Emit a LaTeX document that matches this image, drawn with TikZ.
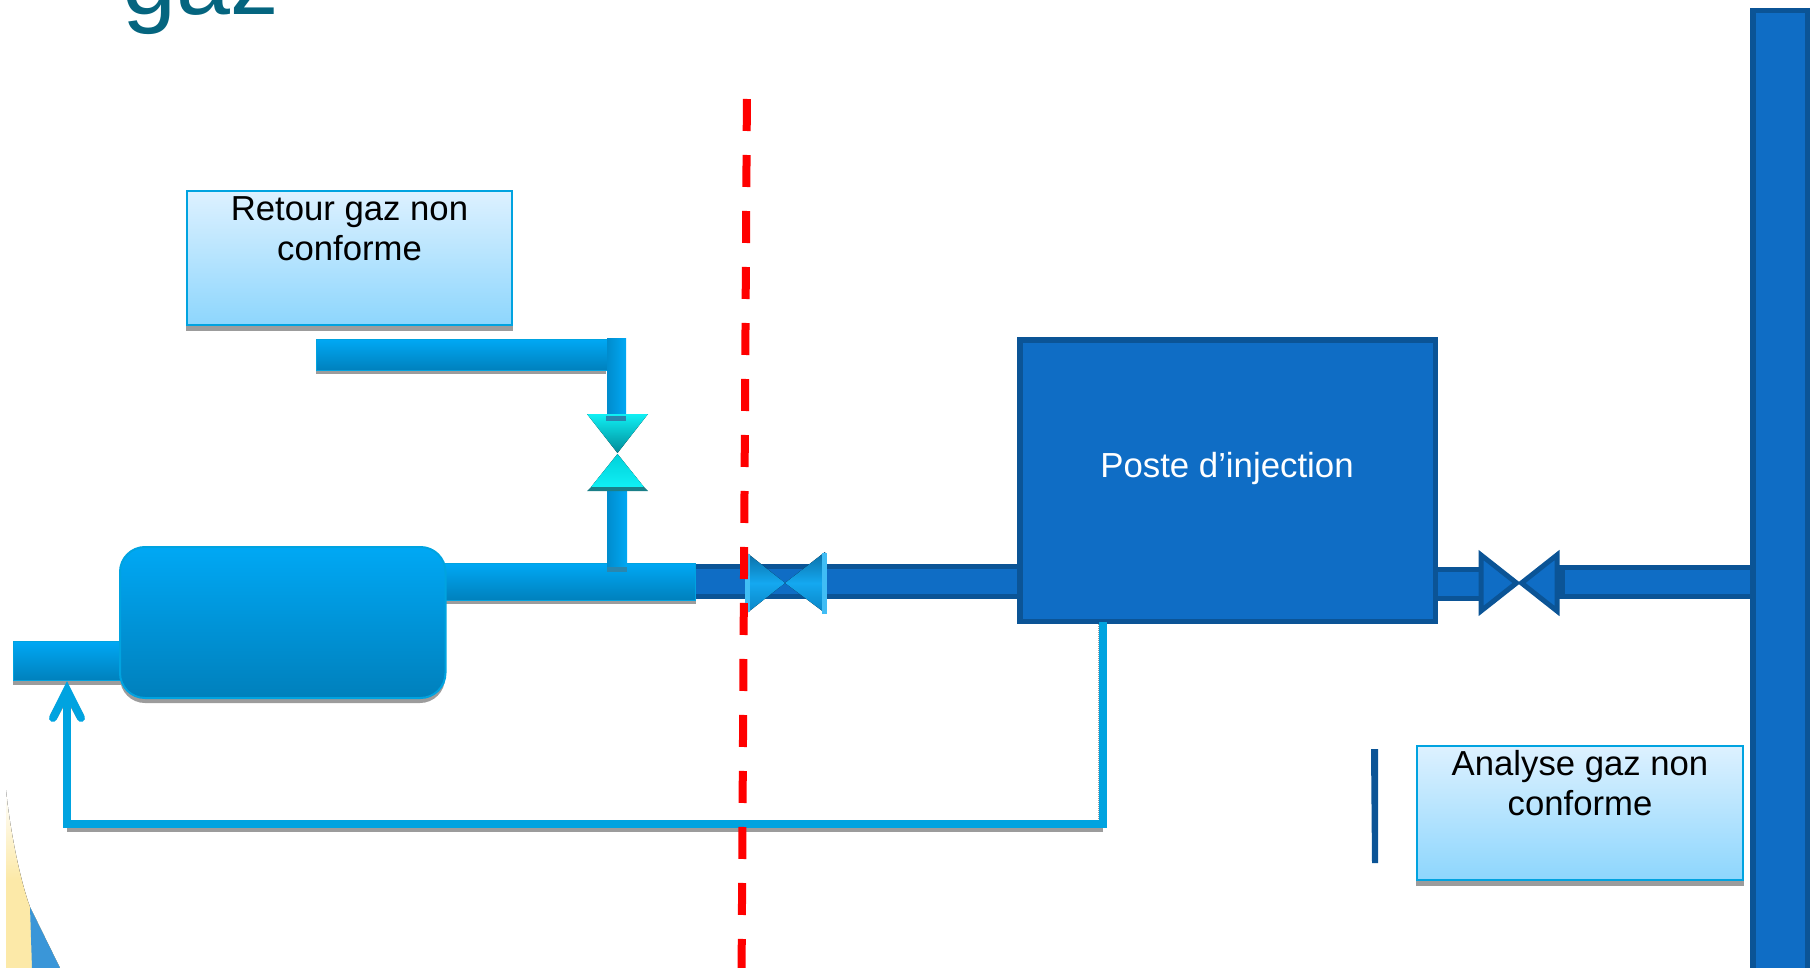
\documentclass[tikz,border=0pt]{standalone}
\usepackage{fontspec}
\setmainfont{Liberation Sans}
\usetikzlibrary{arrows.meta}
\definecolor{dkb}{HTML}{0B5496}
\definecolor{mdb}{HTML}{0F6DC5}
\definecolor{lbe}{HTML}{00A3E0}
\definecolor{ptop}{HTML}{00A8F4}
\definecolor{pbot}{HTML}{0080BC}
\definecolor{shad}{HTML}{9C9C9C}
\definecolor{titlec}{HTML}{05657F}
\definecolor{nbot}{HTML}{8DD6FD}
\definecolor{ntop}{HTML}{DDF1FF}
\definecolor{yel}{HTML}{FCE9A8}
\definecolor{blu}{HTML}{3A96D8}
\definecolor{pipebits}{HTML}{2A86AE}
\definecolor{cyan1}{HTML}{10F0F4}
\definecolor{cyan2}{HTML}{00D0DA}
\definecolor{cyan3}{HTML}{008A98}
\definecolor{cyan4}{HTML}{1A7F88}
\definecolor{bv1}{HTML}{40BDF5}
\definecolor{bv2}{HTML}{14A8F0}
\definecolor{bv3}{HTML}{0B6FA6}
\definecolor{bv5}{HTML}{0A84C4}
\newcommand\boxat[6]{%
  \pgfmathsetmacro\bxw{(#5)-(#3)}\pgfmathsetmacro\bxh{(#6)-(#4)}%
  \node[#1,minimum width=\bxw pt,minimum height=\bxh pt,inner sep=0pt,outer sep=0pt] (#2) at ({((#3)+(#5))/2},{((#4)+(#6))/2}) {};}
\tikzset{
  shadowbox/.style={fill=shad},
  pipedark/.style={fill=mdb,draw=dkb,line width=5.5pt},
  pipelight/.style={top color=ptop,bottom color=pbot,draw=lbe,line width=1pt},
  pipevert/.style={left color=pbot!70!ptop,right color=ptop,draw=none},
  tankbox/.style={top color=ptop,bottom color=pbot,draw=lbe,line width=2pt,rounded corners=25pt},
  notebox/.style={top color=ntop,bottom color=nbot,draw=lbe,line width=2pt},
  notetext/.style={font=\fontsize{34.7}{40.5}\selectfont,align=center,inner sep=0pt,anchor=north,text=black},
  returnline/.style={draw=#1,line width=8pt,line join=miter,line cap=butt},
  redline/.style={draw=red,line width=8pt,dash pattern=on 32pt off 24pt},
  valveB/.style={fill=mdb,draw=dkb,line width=5pt,line join=miter},
  cyandown/.style={top color=cyan1,middle color=cyan2,bottom color=cyan3},
  cyanup/.style={top color=cyan2,bottom color=cyan1},
  blueupper/.style={top color=bv3,bottom color=bv2},
  bluelower/.style={top color=bv2,bottom color=bv5}
}
\begin{document}
\begin{tikzpicture}[x=1pt,y=-1pt]
\useasboundingbox (0,0) rectangle (1810,968);
\clip (0,0) rectangle (1810,968);
% corner decoration
\fill[top color=white,bottom color=yel,middle color=yel] (6,790) .. controls (10,830) and (20,880) .. (30,907) -- (60,968) -- (6,968) -- cycle;
\fill[blu] (30,907) -- (60,968) -- (32,968) -- cycle;
% title
\node[font=\fontsize{97}{97}\selectfont,text=titlec,inner sep=0pt,anchor=base west] (title) at (122,15) {gaz};
% dark pipes
\boxat{pipedark}{pipeA}{690}{566.5}{1025}{596.5}
\boxat{pipedark}{pipeB}{1430}{569.5}{1490}{598.5}
\boxat{pipedark}{pipeC}{1562}{567.5}{1755}{596.5}
\fill[dkb] (1553,565) rectangle (1564,599);
% collector on the right
\boxat{pipedark}{bar}{1753}{10.5}{1807.5}{1000}
% injection station
\node[pipedark,minimum width=415.5pt,minimum height=281.5pt,inner sep=0pt,outer sep=0pt] (poste) at (1227.5,480.5) {};
\node[text=white,font=\fontsize{34.8}{40}\selectfont,inner sep=0pt] (postetxt) at (1227,468.5) {Poste d’injection};
% valve 3
\draw[valveB] (1481,555) -- (1516.5,583) -- (1481,611) -- cycle;
\draw[valveB] (1557,555) -- (1521.5,583) -- (1557,611) -- cycle;
% small vertical mark
\fill[dkb] (1371,749) -- (1378,749) -- (1378,863) -- (1372,863) -- cycle;
% shadows
\boxat{shadowbox}{s1}{13}{670}{125}{685}
\boxat{shadowbox,rounded corners=25pt}{s2}{120}{560}{445}{703}
\boxat{shadowbox}{s3}{446}{590}{696}{604}
\boxat{shadowbox}{s4}{316}{360}{606}{374}
\boxat{shadowbox}{s5}{186}{300}{513}{331}
\boxat{shadowbox}{s6}{1416}{860}{1744}{886}
% inlet pipe and tank
\boxat{pipelight}{inlet}{13.5}{641.5}{125}{680.5}
\boxat{pipelight}{outlet}{440}{563.5}{695.5}{600.5}
\boxat{tankbox}{tank}{120}{547}{445.5}{698}
% upper return pipe
\boxat{pipelight}{upper}{316.5}{339.5}{618}{370.5}
\boxat{pipevert}{vertA}{607}{339}{626}{416}
\boxat{pipevert}{vertB}{607}{489}{627}{567}
\fill[pipebits] (607,567) rectangle (627,572);
% cyan valve
\fill[cyandown] (587,414) -- (648,414) -- (617.5,453) -- cycle;
\fill[cyanup] (617.5,454) -- (591,487) -- (644,487) -- cycle;
\fill[cyan4] (587,491) -- (648,491) -- (644,487) -- (591,487) -- cycle;
\fill[pipebits] (606,416) rectangle (626,421);
% blue bevelled valve
\fill[blueupper] (747,553) -- (785,583) -- (747,583) -- cycle;
\fill[bluelower] (747,613) -- (785,583) -- (747,583) -- cycle;
\fill[bv1] (745,554) rectangle (750,612);
\fill[blueupper] (825,552) -- (785,583) -- (825,583) -- cycle;
\fill[bluelower] (825,613) -- (785,583) -- (825,583) -- cycle;
\fill[bv1] (822,553) rectangle (826.5,614);
% notes
\boxat{notebox}{retour}{187}{191}{512}{325}
\node[notetext] (retourtxt) at (349.5,196) {Retour gaz non\\conforme};
\boxat{notebox}{analyse}{1417}{746}{1743}{880}
\node[notetext] (analysetxt) at (1580,750) {Analyse gaz non\\conforme};
% return line with its shadow
\coordinate (retA) at (1103,622);
\coordinate (retB) at (1103,823.5);
\coordinate (retC) at (67,823.5);
\coordinate (retD) at (67,681);
\draw[returnline=shad] ([yshift=-4pt]retB) -- ([yshift=-4pt]retC);
\draw[shad,densely dotted,line width=1pt] (1098.5,624) -- (1098.5,826);
\draw[shad,line width=8pt,line cap=round] (54,716) -- (60,705);
\draw[shad,line width=8pt,line cap=round] (80,716) -- (74,705);
\draw[returnline=lbe,-{Straight Barb[length=28pt,width=28pt,line width=8pt,line cap=round,line join=miter]}] (retA) -- (retB) -- (retC) -- (retD);
% limit line
\coordinate (limA) at (746.9,99);
\coordinate (limB) at (741.6,968);
\draw[redline] (limA) -- (limB);
\end{tikzpicture}
\end{document}
